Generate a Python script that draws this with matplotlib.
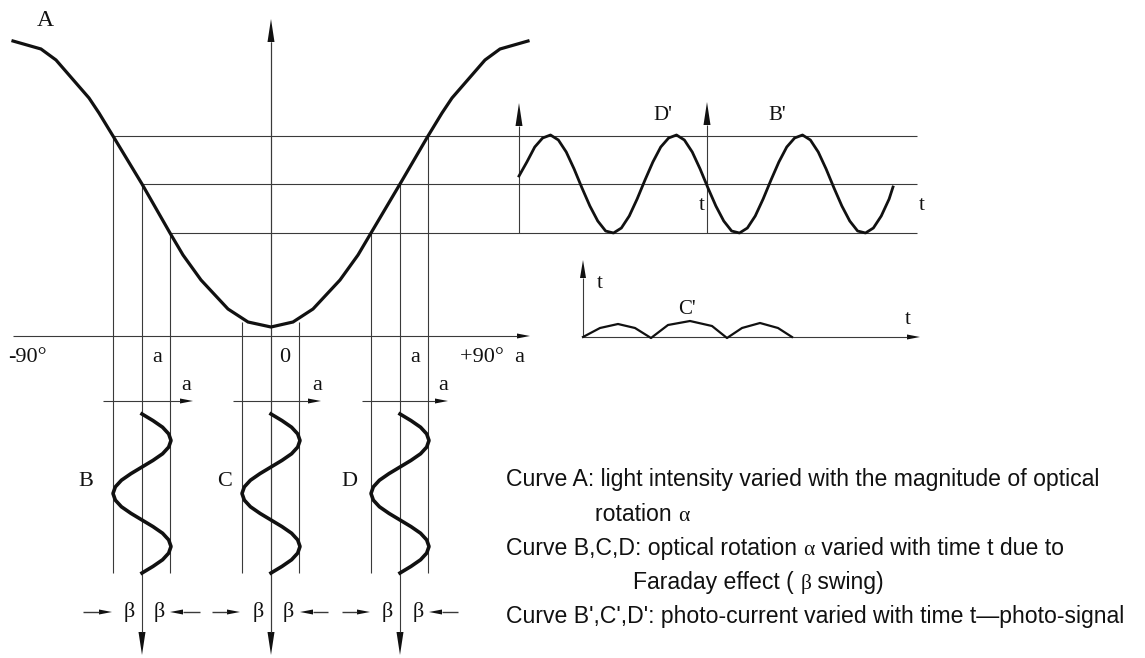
import matplotlib.pyplot as plt
import numpy as np

# Curve A: light intensity against optical rotation (px)
curve_a_x = [13, 41, 56, 89, 99, 113, 142, 170, 183, 201, 228, 248, 271,
             293, 313, 340, 358, 371, 400, 428, 442, 452, 485, 500, 528]
curve_a_y = [41, 49, 60, 98, 113, 136, 184, 233, 255, 280, 309, 322, 327,
             322, 309, 280, 255, 233, 184, 136, 113, 98, 60, 49, 41]

# B, C, D: the beta swing, as a fraction of the swing width, 16 samples per period
swing_shape = [0, .38, .71, .92, 1, .92, .71, .38, 0, -.38, -.71, -.92, -1,
               -.92, -.71, -.38, 0, .38, .71, .92, 1, .92, .71, .38, 0]
swing_names = ["B", "C", "D"]

# B', D': photo-signal, 16 samples per period
signal_y = [176, 162, 147, 138, 135, 140, 152, 169, 188, 206, 221, 231, 233, 228, 216, 199,
            180, 162, 147, 138, 135, 140, 152, 169, 188, 206, 221, 231, 233, 228, 216, 199,
            180, 162, 147, 138, 135, 140, 152, 169, 188, 206, 221, 231, 233, 228, 216, 199]
signal_end = (893, 187)

# C': rectified photo-signal
c_signal_x = [583, 600, 618, 635, 651, 668, 690, 712, 727, 742, 760, 778, 792]
c_signal_y = [337, 328, 324, 328, 338, 325, 321, 326, 338, 328, 323, 328, 337]

legend_text = [
    [("Curve A: light intensity varied with the magnitude of optical", False)],
    [("rotation ", False), ("α", True)],
    [("Curve B,C,D: optical rotation ", False), ("α", True),
     (" varied with time t due to", False)],
    [("Faraday effect ( ", False), ("β", True), (" swing)", False)],
    [("Curve B',C',D': photo-current varied with time t—photo-signal", False)],
]

INK = "#111111"
THIN = "#3a3a3a"
SERIF = ["Liberation Serif", "DejaVu Serif"]
SANS = ["Liberation Sans", "DejaVu Sans"]

W, H = 1145, 658
fig = plt.figure(figsize=(11.45, 6.58), dpi=100)
ax = fig.add_axes([0, 0, 1, 1])
ax.set_xlim(0, W)
ax.set_ylim(H, 0)
ax.axis("off")


def line(x, y, lw=0.8, color=THIN):
    ax.plot(x, y, color=color, lw=lw, solid_capstyle="butt")


def arrow(x0, y0, x1, y1, head=13, half=2.5, lw=0.8, color=THIN):
    d = np.hypot(x1 - x0, y1 - y0)
    ux, uy = (x1 - x0) / d, (y1 - y0) / d
    bx, by = x1 - ux * head, y1 - uy * head
    line([x0, bx], [y0, by], lw=lw, color=color)
    ax.fill([x1, bx - uy * half, bx + uy * half],
            [y1, by + ux * half, by - ux * half], color=INK, lw=0)


def label(x, y, s, size=15, ha="center", va="center", family=SERIF):
    ax.text(x, y, s, fontsize=size, ha=ha, va=va, family=family, color=INK)


# projection lines from curve A
for y, x0 in [(136, 113), (184, 142), (233, 170)]:
    line([x0, 917], [y, y])
for x, y0 in [(113, 136), (170, 233), (242, 322), (299, 322), (371, 233), (428, 136)]:
    line([x, x], [y0, 573])
for x in [142, 400]:
    arrow(x, 184, x, 655, head=23, half=3.5)

# main axes
arrow(13, 336, 530, 336)
line([271, 271], [42, 632])
arrow(271, 336, 271, 19, head=23, half=3.5)
arrow(271, 336, 271, 655, head=23, half=3.5)

# rotation axes above the swings
for x0, x1 in [(103, 193), (233, 321), (362, 448)]:
    arrow(x0, 401, x1, 401)

# beta markers
for x0, x1 in [(83, 112), (200, 170), (212, 240), (328, 300), (342, 370), (458, 429)]:
    arrow(x0, 612, x1, 612, lw=1.0)

# curve A
ax.plot(curve_a_x, curve_a_y, color=INK, lw=2.3, solid_joinstyle="miter")

# swings B, C, D
swing_y = 414 + np.arange(len(swing_shape)) * 6.625
for c in [142, 271, 400]:
    ax.plot(c + 29 * np.array(swing_shape), swing_y, color=INK, lw=2.6)

# photo-signal B', D'
arrow(519, 233, 519, 103, head=23, half=3.5)
arrow(707, 233, 707, 102, head=23, half=3.5)
sig_x = 519 + np.arange(len(signal_y)) * 7.875
ax.plot(list(sig_x) + [signal_end[0]], signal_y + [signal_end[1]], color=INK, lw=2.0)

# rectified signal C'
arrow(583, 337, 583, 260, head=18, half=3)
arrow(583, 337, 920, 337)
ax.plot(c_signal_x, c_signal_y, color=INK, lw=1.6)

# serif labels
label(45, 20, "A", size=17)
label(8, 357, "-90°", size=16, ha="left")
label(157, 357, "a", size=16)
label(285, 357, "0", size=16)
label(415, 357, "a", size=16)
label(460, 357, "+90°  a", size=16, ha="left")
for x in [186, 317, 443]:
    label(x, 385, "a", size=16)
for x, name in zip([86, 225, 349], swing_names):
    label(x, 482, name, size=16)
for x in [129, 159, 258, 288, 387, 418]:
    label(x, 612, "β", size=16)
label(663, 115, "D'", size=15)
label(777, 115, "B'", size=15)
label(705, 205, "t", size=15, ha="right")
label(922, 205, "t", size=15)
label(600, 283, "t", size=15)
label(687, 310, "C'", size=15)
label(908, 320, "t", size=15)

# explanatory notes
line_x = [506, 595, 506, 633, 506]
line_base = [486, 521, 555, 589, 623]
for x, y, pieces in zip(line_x, line_base, legend_text):
    prev = None
    for text, greek in pieces:
        fam = SERIF if greek else SANS
        size = 15.5 if greek else 16.6
        if prev is None:
            prev = ax.text(x, y, text, fontsize=size, family=fam, color=INK,
                           ha="left", va="baseline")
        else:
            prev = ax.annotate(text, xy=(1, 0), xycoords=prev, fontsize=size,
                               family=fam, color=INK, ha="left", va="bottom")

fig.savefig("out.png", dpi=100)
